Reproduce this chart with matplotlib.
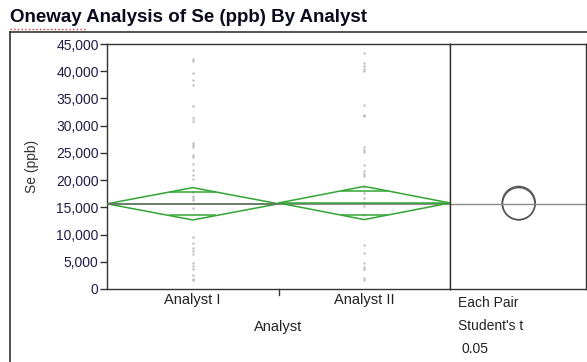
import matplotlib
matplotlib.use('Agg')
import matplotlib.pyplot as plt
import numpy as np
from matplotlib.patches import Circle, Polygon

plt.rcParams['font.family'] = ['Liberation Sans', 'DejaVu Sans']

# data (values in ppb)
groups = ['Analyst I', 'Analyst II']
se_analyst1 = [42200, 41900, 39600, 38400, 37500, 33600, 31400, 30900, 26900, 26500,
               26000, 24600, 24300, 23000, 21900, 21000, 20200, 17900, 17000, 16700,
               16400, 14900, 9500, 8400, 7500, 6900, 6500, 4800, 4300, 3700, 2600,
               1800, 1600]
se_analyst2 = [43400, 41500, 41000, 40500, 40100, 33800, 32000, 31700, 26000, 25600,
               25100, 22800, 21600, 21200, 20700, 18800, 17600, 16700, 15800, 15200,
               13600, 8100, 6600, 4800, 4000, 3700, 2000, 1600]
group_means = [15650, 15800]
ci_half = [2970, 3050]      # 95% CI half width (diamond height)
grand_mean = 15700
yticks = [0, 5000, 10000, 15000, 20000, 25000, 30000, 35000, 40000, 45000]

W, H = 587, 362
fig = plt.figure(figsize=(W / 100, H / 100), dpi=100)

# main panel  (pixel box 107..450 x 44..289)
ax = fig.add_axes([107 / W, (H - 289) / H, (450 - 107) / W, 245 / H])
ax2 = fig.add_axes([450 / W, (H - 289) / H, (586 - 450) / W, 245 / H], sharey=ax)

green = '#33a533'
pts = [se_analyst1, se_analyst2]
for i, g in enumerate(groups):
    xc = i + 0.5
    ax.plot([xc] * len(pts[i]), pts[i], ls='none', marker='s', ms=1.8,
            mec='none', mfc='#b4b4b4', zorder=1)
    m, c = group_means[i], ci_half[i]
    z = 2 if i == 0 else 4
    diamond = Polygon([[i, m], [xc, m + c], [i + 1, m], [xc, m - c]], closed=True,
                      fill=False, ec=green, lw=1.1, zorder=z)
    ax.add_patch(diamond)
    ax.plot([i, i + 1], [m, m], color=green, lw=1.1, zorder=z)
    # overlap marks
    ov = c / np.sqrt(2)
    half = 0.5 * (1 - ov / c) * 0.9
    for s in (1, -1):
        ax.plot([xc - half, xc + half], [m + s * ov, m + s * ov], color=green,
                lw=1.1, zorder=z)

ax.axhline(grand_mean, color='#6e6e6e', lw=1.1, zorder=3)

ax.set_xlim(0, 2)
ax.set_ylim(0, 45000)
ax.set_yticks(yticks)
ax.set_yticklabels([f'{v:,}' for v in yticks], color='#1e1e46', fontsize=10)
ax.set_xticks([0.5, 1.5])
ax.set_xticklabels(groups, fontsize=10.5, color='#222222')
ax.tick_params(axis='x', length=0, pad=3)
ax.tick_params(axis='y', length=5, width=1, color='#333333', pad=1)
ax.plot([1, 1], [0, -0.025], transform=ax.get_xaxis_transform(), color='#333333',
        lw=1, clip_on=False)
ax.set_ylabel('Se (ppb)', fontsize=10, color='#333333', labelpad=12)
ax.text(1, -0.155, 'Analyst', transform=ax.get_xaxis_transform(), ha='center',
        va='center', fontsize=10.5, color='#222222')
for sp in ax.spines.values():
    sp.set_color('#333333')
    sp.set_linewidth(1)

# comparison circles panel, same pixel scale on both axes
xrange_ = (586 - 450) * 45000 / 245
ax2.set_xlim(0, xrange_)
ax2.axhline(grand_mean, color='#8a8a8a', lw=1.0)
cx = xrange_ * (68.7 / 136)
for m, c in zip(group_means, ci_half):
    ax2.add_patch(Circle((cx, m), c, fill=False, ec='#555555', lw=1.0))
ax2.tick_params(left=False, labelleft=False, bottom=False, labelbottom=False)
for sp in ax2.spines.values():
    sp.set_color('#333333')
    sp.set_linewidth(1)

for k, t in enumerate(['Each Pair', "Student's t", '0.05']):
    fig.text((458 + (4 if k == 2 else 0)) / W, 1 - (303 + 23 * k) / H, t,
             fontsize=10, color='#222222', va='center', ha='left')

# title + outline frame
fig.text(10 / W, 1 - 18 / H, 'Oneway Analysis of Se (ppb) By Analyst', fontsize=13.5,
         fontweight='bold', color='#0a0a1e', va='center', ha='left')
fig.add_artist(plt.Line2D([10 / W, 1], [1 - 32 / H, 1 - 32 / H], color='#333333', lw=1.2))
fig.add_artist(plt.Line2D([10 / W, 10 / W], [0, 1 - 32 / H], color='#333333', lw=1.2))
fig.add_artist(plt.Line2D([10 / W, 85 / W], [1 - 29 / H, 1 - 29 / H], color='#e03030',
                          lw=1, ls=':'))

fig.savefig('out.png', dpi=100)
